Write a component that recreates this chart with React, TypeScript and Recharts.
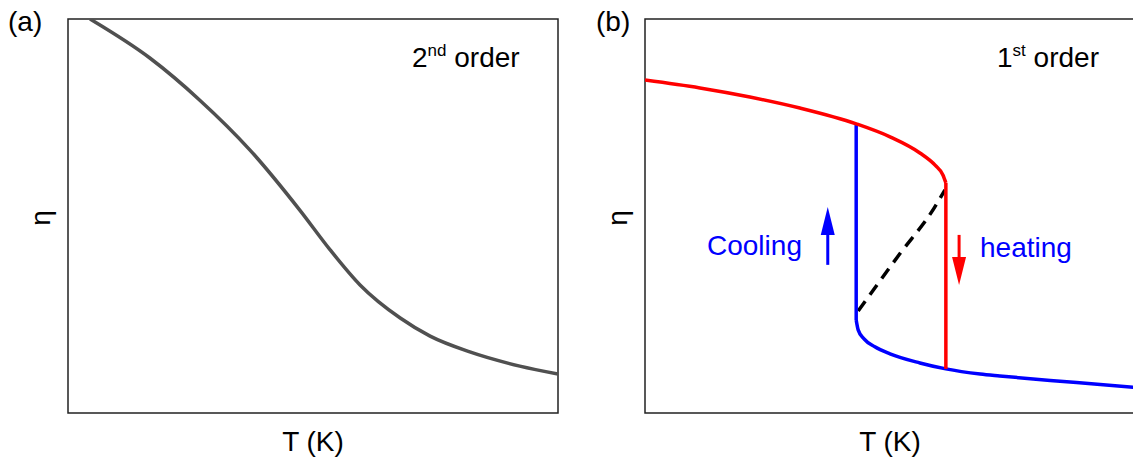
import React from 'react';
import {
    LineChart,
    Line,
    XAxis,
    YAxis,
    ReferenceArea,
    ReferenceLine,
    ReferenceDot,
    Customized
} from 'recharts';

// (a) continuous transition: order parameter falls smoothly with T
const secondOrderT = [0.045, 0.167, 0.269, 0.371, 0.473, 0.535, 0.596, 0.678, 0.739, 0.82, 0.922, 1.0];
const secondOrderEta = [1.0, 0.901, 0.794, 0.668, 0.515, 0.414, 0.325, 0.241, 0.195, 0.155, 0.119, 0.099];

// (b) hysteresis loop of a discontinuous transition
const heatingUpperT = [0, 0.112, 0.214, 0.316, 0.431, 0.5, 0.561, 0.592, 0.608, 0.614];
const heatingUpperEta = [0.845, 0.825, 0.802, 0.774, 0.734, 0.701, 0.66, 0.629, 0.604, 0.584];
const heatingDropT = [0.614, 0.614];
const heatingDropEta = [0.584, 0.112];

const coolingJumpT = [0.431, 0.431];
const coolingJumpEta = [0.236, 0.734];
const coolingLowerT = [0.431, 0.435, 0.447, 0.469, 0.5, 0.561, 0.614, 0.684, 0.724, 0.827, 0.929, 1.0];
const coolingLowerEta = [0.236, 0.211, 0.188, 0.168, 0.15, 0.127, 0.112, 0.099, 0.094, 0.0825, 0.0723, 0.0647];

// unstable branch (dashed)
const unstableT = [0.435, 0.52, 0.59, 0.612];
const unstableEta = [0.259, 0.404, 0.52, 0.566];

// arrows: [x, tail, head base, tip]
const coolingArrow = [0.373, 0.376, 0.455, 0.523];
const heatingArrow = [0.641, 0.452, 0.392, 0.325];

const FONT = '"Liberation Sans", Arial, sans-serif';
const BLUE = '#0000ff';
const RED = '#ff0000';
const SIZE = 28;

const zip = (t: number[], eta: number[]) => t.map((x, i) => ({ t: x, eta: eta[i] }));

const Arrowhead = (dir: 'up' | 'down', color: string) => (props: any) => {
    const { cx, cy } = props;
    const h = dir === 'up' ? 28 : -28;
    return (
        <polygon
            points={`${cx},${cy} ${cx - 7},${cy + h} ${cx + 7},${cy + h}`}
            fill={color}
        />
    );
};

interface PanelTextProps {
    tagX: number;
    orderX: number;
    tag: string;
    num: string;
    sup: string;
}

const PanelText = ({ tagX, orderX, tag, num, sup }: PanelTextProps) => (
    <g fontFamily={FONT} fill="#000">
        <text x={tagX} y={31} fontSize={SIZE}>{tag}</text>
        <text x={orderX} y={67} fontSize={SIZE}>
            {num}
            <tspan dy={-11} fontSize={17}>{sup}</tspan>
            <tspan dy={11}> order</tspan>
        </text>
        <text x={313} y={451} fontSize={SIZE} textAnchor="middle">T (K)</text>
        <text x={50} y={218} fontSize={SIZE} textAnchor="middle" transform="rotate(-90 50 218)">η</text>
    </g>
);

const Frame = () => (
    <ReferenceArea x1={0} x2={1} y1={0} y2={1} fill="none" fillOpacity={0} stroke="#222" strokeWidth={1.5} ifOverflow="visible" />
);

const curve = (t: number[], eta: number[], color: string, type: 'monotone' | 'linear', dash?: string) => (
    <Line
        data={zip(t, eta)}
        dataKey="eta"
        type={type}
        stroke={color}
        strokeWidth={3.5}
        strokeDasharray={dash}
        dot={false}
        activeDot={false}
        isAnimationActive={false}
    />
);

export default function App() {
    return (
        <div style={{ position: 'absolute', left: 0, top: 0, width: 1133, height: 461, overflow: 'hidden', background: '#fff' }}>
            {/* (a) 2nd order */}
            <div style={{ position: 'absolute', left: 0, top: 0 }}>
                <LineChart width={600} height={461} margin={{ top: 19, right: 42, bottom: 48, left: 68 }}>
                    <XAxis type="number" dataKey="t" domain={[0, 1]} hide allowDataOverflow />
                    <YAxis type="number" domain={[0, 1]} hide allowDataOverflow />
                    {curve(secondOrderT, secondOrderEta, '#505050', 'monotone')}
                    {Frame()}
                    <Customized component={() => <PanelText tagX={8} orderX={412} tag="(a)" num="2" sup="nd" />} />
                </LineChart>
            </div>

            {/* (b) 1st order */}
            <div style={{ position: 'absolute', left: 577, top: 0 }}>
                <LineChart width={560} height={461} margin={{ top: 19, right: 2, bottom: 48, left: 68 }}>
                    <XAxis type="number" dataKey="t" domain={[0, 1]} hide allowDataOverflow />
                    <YAxis type="number" domain={[0, 1]} hide allowDataOverflow />
                    {curve(unstableT, unstableEta, '#000', 'monotone', '12 8')}
                    {curve(coolingLowerT, coolingLowerEta, BLUE, 'monotone')}
                    {curve(coolingJumpT, coolingJumpEta, BLUE, 'linear')}
                    {curve(heatingUpperT, heatingUpperEta, RED, 'monotone')}
                    {curve(heatingDropT, heatingDropEta, RED, 'linear')}
                    <ReferenceLine
                        segment={[{ x: coolingArrow[0], y: coolingArrow[1] }, { x: coolingArrow[0], y: coolingArrow[2] }]}
                        stroke={BLUE}
                        strokeWidth={3}
                    />
                    <ReferenceDot x={coolingArrow[0]} y={coolingArrow[3]} shape={Arrowhead('up', BLUE)} />
                    <ReferenceLine
                        segment={[{ x: heatingArrow[0], y: heatingArrow[1] }, { x: heatingArrow[0], y: heatingArrow[2] }]}
                        stroke={RED}
                        strokeWidth={3}
                    />
                    <ReferenceDot x={heatingArrow[0]} y={heatingArrow[3]} shape={Arrowhead('down', RED)} />
                    {Frame()}
                    <Customized
                        component={() => (
                            <g>
                                <PanelText tagX={19} orderX={420} tag="(b)" num="1" sup="st" />
                                <text x={707 - 577} y={255} fontSize={SIZE} fontFamily={FONT} fill={BLUE}>Cooling</text>
                                <text x={980 - 577} y={257} fontSize={SIZE} fontFamily={FONT} fill={BLUE}>heating</text>
                            </g>
                        )}
                    />
                </LineChart>
            </div>
        </div>
    );
}
